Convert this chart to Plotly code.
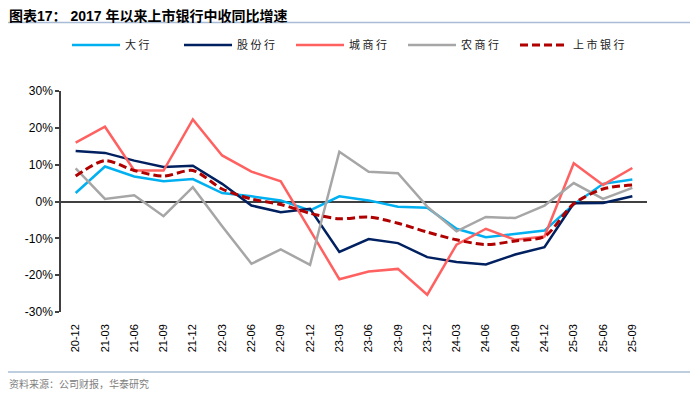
import plotly.graph_objects as go

categories = ["20-12", "21-03", "21-06", "21-09", "21-12", "22-03", "22-06", "22-09", "22-12",
              "23-03", "23-06", "23-09", "23-12", "24-03", "24-06", "24-09", "24-12",
              "25-03", "25-06", "25-09"]

big_banks = [2.3, 9.5, 6.8, 5.5, 6.1, 2.3, 1.4, 0.3, -2.4, 1.4, 0.3, -1.4, -1.7, -7.4, -9.7, -8.8, -7.9, -0.8, 4.8, 6.0]
joint_stock = [13.7, 13.2, 11.1, 9.4, 9.7, 4.8, -1.1, -2.9, -2.0, -13.7, -10.2, -11.3, -15.1, -16.4, -17.1, -14.4, -12.4, -0.5, -0.4, 1.4]
city_banks = [16.0, 20.3, 8.4, 8.4, 22.3, 12.5, 8.1, 5.5, -7.8, -21.1, -19.0, -18.3, -25.3, -11.7, -7.4, -10.4, -9.5, 10.4, 4.5, 9.1]
rural_banks = [9.0, 0.7, 1.7, -4.0, 3.9, -6.7, -16.9, -13.0, -17.2, 13.5, 8.1, 7.7, -1.4, -8.1, -4.2, -4.5, -1.1, 5.0, 0.7, 3.7]
listed_banks = [6.9, 11.1, 8.4, 6.9, 8.4, 3.4, 0.7, -0.8, -3.2, -4.7, -4.2, -5.9, -8.3, -10.4, -11.7, -10.7, -9.5, -0.6, 3.4, 4.5]

series_names = ["大 行", "股 份 行", "城 商 行", "农 商 行", "上 市 银 行"]
y_tickvals = [-30, -20, -10, 0, 10, 20, 30]
y_ticktext = ["-30%", "-20%", "-10%", "0%", "10%", "20%", "30%"]

title_text = "图表17： 2017 年以来上市银行中收同比增速"
source_text = "资料来源：公司财报，华泰研究"

# page body has an 8px margin, so the figure is drawn at (8, 8)
OFF = 8
W, H = 700 - OFF, 394 - OFF
L, R, T, B = 61, 647, 91, 312  # plot area in window pixels

def px_x(x):
    return (x - L) / (R - L)

def px_y(y):
    return (B - y) / (B - T)

fig = go.Figure()
styles = [
    dict(color="#00B0F0", width=2.5),
    dict(color="#002060", width=2.5),
    dict(color="#FF6161", width=2.5),
    dict(color="#A6A6A6", width=2.5),
    dict(color="#B00000", width=3, dash="8px,4px"),
]
data = [big_banks, joint_stock, city_banks, rural_banks, listed_banks]
for name, vals, st in zip(series_names, data, styles):
    fig.add_trace(go.Scatter(
        x=categories, y=vals, name=name, mode="lines",
        line=dict(shape="spline", smoothing=0.8, **st) if "dash" in st else st,
        hoverinfo="skip",
    ))

fig.update_layout(
    width=W, height=H,
    margin=dict(l=L - OFF, r=700 - R, t=T - OFF, b=394 - B, autoexpand=False),
    paper_bgcolor="white", plot_bgcolor="white",
    font=dict(family="Liberation Sans, Arial, Noto Sans CJK SC", size=12, color="#000000"),
    showlegend=True,
    legend=dict(
        orientation="h", x=px_x(67), y=px_y(45), xanchor="left", yanchor="middle",
        entrywidth=49, entrywidthmode="pixels", itemwidth=48,
        font=dict(family="Noto Sans CJK SC", size=11, color="#222222"),
        bgcolor="rgba(0,0,0,0)", itemclick=False,
    ),
    xaxis=dict(
        type="category", range=[-0.5, len(categories) - 0.5],
        showgrid=False, showline=False, zeroline=False,
        ticks="", tickangle=-90, ticklabelstandoff=9,
        tickfont=dict(size=11, family="Liberation Sans, Arial"),
    ),
    yaxis=dict(
        range=[-30, 30], tickvals=y_tickvals, ticktext=y_ticktext,
        showgrid=False, showline=True, linecolor="#404040", linewidth=1.5,
        ticks="outside", ticklen=4, tickcolor="#404040", tickwidth=1.5,
        zeroline=True, zerolinecolor="#404040", zerolinewidth=1.5,
        tickfont=dict(size=12, family="Liberation Sans, Arial"),
    ),
)

fig.add_annotation(
    text="<b>" + title_text + "</b>", xref="paper", yref="paper",
    x=px_x(8), y=px_y(7), xanchor="left", yanchor="top", showarrow=False,
    borderpad=0,
    font=dict(family="Liberation Sans, Noto Sans CJK SC", size=14, color="#000000"),
)
fig.add_annotation(
    text=source_text, xref="paper", yref="paper",
    x=px_x(7), y=px_y(383), xanchor="left", yanchor="middle", showarrow=False,
    font=dict(family="Noto Sans CJK SC", size=10, color="#808080"),
)
for yy in (22.5, 372):
    fig.add_shape(type="line", xref="paper", yref="paper",
                  x0=px_x(8), x1=px_x(690), y0=px_y(yy), y1=px_y(yy),
                  line=dict(color="#A9BCD5", width=1.5))

fig.write_html("out.html")
